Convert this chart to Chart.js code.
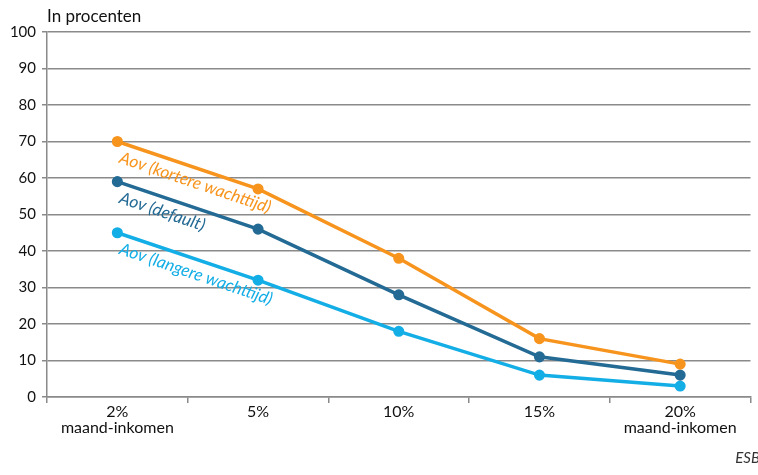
<!DOCTYPE html>
<html>
<head>
<meta charset="utf-8">
<script src="https://cdn.jsdelivr.net/npm/chart.js@4.4.1/dist/chart.umd.min.js"></script>
<style>
  html, body { margin: 0; padding: 0; background: #fff; }
  #wrap { width: 758px; height: 475px; position: relative; }
</style>
</head>
<body>
<div id="wrap"><canvas id="chart"></canvas></div>
<script>
"use strict";

// ── Data ──────────────────────────────────────────────────
const categories = [["2%", "maand-inkomen"], "5%", "10%", "15%", ["20%", "maand-inkomen"]];
const korter     = [70, 57, 38, 16, 9];
const standaard  = [59, 46, 28, 11, 6];
const langer     = [45, 32, 18, 6, 3];
const seriesNames = ["Aov (kortere wachttijd)", "Aov (default)", "Aov (langere wachttijd)"];
const yTicks     = [0, 10, 20, 30, 40, 50, 60, 70, 80, 90, 100];

const ORANGE = "#f7941d";
const DARK   = "#236a94";
const LIGHT  = "#13aee6";
const GRID   = "#8a8a8a";
const FONT   = "Lato, 'Open Sans', sans-serif";

// ── Plugins ───────────────────────────────────────────────
const decorations = {
  id: "decorations",
  afterDraw(chart) {
    const c = chart.ctx;
    const area = chart.chartArea;
    c.save();
    // unit label
    c.fillStyle = "#111";
    c.font = `17px ${FONT}`;
    c.textBaseline = "middle";
    c.textAlign = "left";
    c.fillText("In procenten", area.left, 17);

    // source
    c.fillStyle = "#333";
    c.font = `italic 15px ${FONT}`;
    c.textAlign = "right";
    c.fillText("ESB", 760, 458);

    // series labels along the lines
    chart.data.datasets.forEach((ds, i) => {
      const pts = chart.getDatasetMeta(i).data;
      const p0 = pts[0], p1 = pts[1];
      const angle = Math.atan2(p1.y - p0.y, p1.x - p0.x);
      c.save();
      c.translate(p0.x + 1, p0.y + 21);
      c.rotate(angle);
      c.fillStyle = ds.borderColor;
      c.font = `italic 17px ${FONT}`;
      c.textAlign = "left";
      c.textBaseline = "alphabetic";
      c.fillText(seriesNames[i], 0, 0);
      c.restore();
    });
    c.restore();
  },
};

// ── Chart ─────────────────────────────────────────────────
const makeSet = (data, color) => ({
  data,
  borderColor: color,
  backgroundColor: color,
  pointBackgroundColor: color,
  pointBorderColor: color,
  borderWidth: 3.5,
  pointRadius: 3.8,
  tension: 0,
});

new Chart(document.getElementById("chart"), {
  type: "line",
  data: {
    labels: categories,
    datasets: [
      makeSet(korter, ORANGE),
      makeSet(standaard, DARK),
      makeSet(langer, LIGHT),
    ],
  },
  options: {
    responsive: true,
    maintainAspectRatio: false,
    animation: false,
    layout: { padding: { top: 32, right: 5, left: 0, bottom: 0 } },
    plugins: { legend: { display: false }, tooltip: { enabled: false } },
    scales: {
      x: {
        offset: true,
        grid: {
          offset: true,
          drawOnChartArea: true,
          color: ctx => ctx.index === categories.length ? GRID : "transparent",
          tickColor: GRID,
          tickLength: 6,
          lineWidth: 1.5,
        },
        border: { color: GRID, width: 1.5 },
        ticks: { color: "#111", font: { family: FONT, size: 16, lineHeight: 1.0 }, padding: 1, maxRotation: 0 },
        afterFit: s => { s.height = 78; },
      },
      y: {
        min: 0,
        max: 100,
        afterBuildTicks: s => { s.ticks = yTicks.map(v => ({ value: v })); },
        grid: { color: GRID, tickColor: GRID, tickLength: 5, lineWidth: 1.5 },
        border: { color: GRID, width: 1.5 },
        ticks: { color: "#111", font: { family: FONT, size: 15 }, padding: 6 },
        afterFit: s => { s.width = 47; },
      },
    },
  },
  plugins: [decorations],
});
</script>
</body>
</html>
